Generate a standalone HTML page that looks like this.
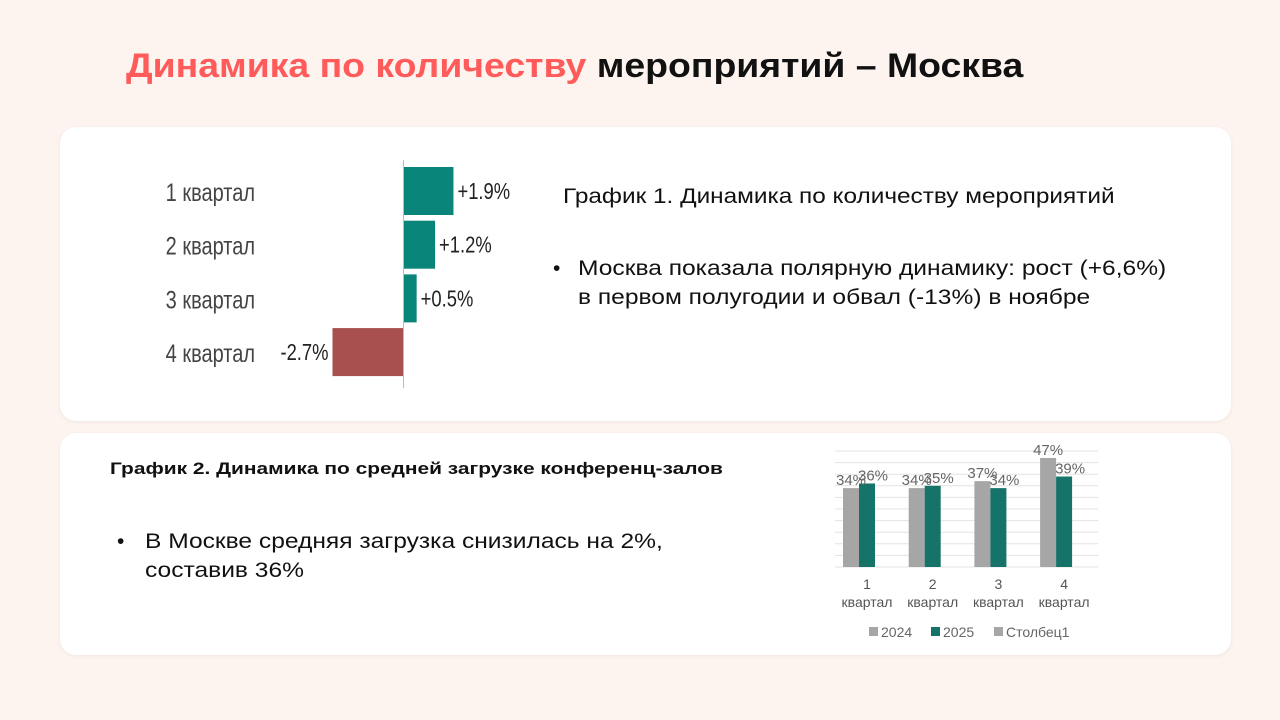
<!DOCTYPE html>
<html><head><meta charset="utf-8"><style>
body{margin:0;width:1280px;height:720px;background:#fdf3ef;font-family:"Liberation Sans",sans-serif;position:relative;overflow:hidden}
.card{position:absolute;background:#fff;border-radius:16px;box-shadow:0 1px 4px rgba(0,0,0,.06)}
.t{position:absolute;white-space:nowrap;color:#111;transform-origin:0 0}
</style></head><body>
<div class="t" style="left:126px;top:47px;font-size:34px;font-weight:bold;transform:scaleX(1.1)"><span style="color:#ff5b5a">Динамика по количеству</span> мероприятий – Москва</div>
<div class="card" style="left:60px;top:127px;width:1171px;height:294px"></div>
<div class="card" style="left:60px;top:433px;width:1171px;height:222px"></div>
<svg id="c1" width="1280" height="720" style="position:absolute;left:0;top:0"></svg>
<div class="t" style="left:563px;top:185px;font-size:21px;transform:scaleX(1.16)">График 1. Динамика по количеству мероприятий</div>
<div class="t" style="left:553px;top:254px;font-size:21px;line-height:29px">•<span style="position:absolute;left:25px;top:0;transform:scaleX(1.17);transform-origin:0 0">Москва показала полярную динамику: рост (+6,6%)<br>в первом полугодии и обвал (-13%) в ноябре</span></div>
<div class="t" style="left:110px;top:459px;font-size:17px;font-weight:bold;transform:scaleX(1.23)">График 2. Динамика по средней загрузке конференц-залов</div>
<div class="t" style="left:117px;top:527px;font-size:21px;line-height:29px">•<span style="position:absolute;left:28px;top:0;transform:scaleX(1.17);transform-origin:0 0">В Москве средняя загрузка снизилась на 2%,<br>составив 36%</span></div>
<script>
const q1Cats=["1 квартал","2 квартал","3 квартал","4 квартал"];
const q1Vals=[1.9,1.2,0.5,-2.7];
const q1Labels=["+1.9%","+1.2%","+0.5%","-2.7%"];
const q2Cats=["1","2","3","4"];
const s2024=[34,34,37,47];
const s2025=[36,35,34,39];
const NS="http://www.w3.org/2000/svg";
const svg=document.getElementById('c1');
function mk(t,a,txt){const e=document.createElementNS(NS,t);for(const k in a)e.setAttribute(k,a[k]);if(txt!=null)e.textContent=txt;svg.appendChild(e);return e;}
const x0=403.5,ppu=26.3;
const xs=v=>x0+v*ppu, ys=i=>167+i*53.7;
q1Vals.forEach((v,i)=>{
 const y=ys(i),xa=Math.min(xs(0),xs(v)),w=Math.abs(xs(v)-xs(0));
 let r=mk('rect',{x:xa,y:y,width:w,height:48,fill:v>=0?'#0a857a':'#a84f4f'});
 
 
 const lx=v>=0?xs(v)+4:xs(v)-4;
 let l=mk('text',{x:lx,y:y+32,'font-size':23,fill:'#222','text-anchor':v>=0?'start':'end',transform:`translate(${lx} 0) scale(0.8 1) translate(${-lx} 0)`},q1Labels[i]);
 
 
 let c=mk('text',{x:255,y:y+34,'font-size':25,fill:'#444','text-anchor':'end',transform:`translate(255 0) scale(0.8 1) translate(-255 0)`},q1Cats[i]);
 
 
});
let ax=mk('line',{x1:x0,x2:x0,y1:160,y2:388,stroke:'#bbb','stroke-width':1});


const base=567,pp=2.32;
const yv=v=>base-v*pp, cx=i=>867+i*65.7;
for(let g=0;g<=50;g+=5){let gl=mk('line',{x1:835,x2:1098,y1:yv(g),y2:yv(g),stroke:'#e3e3e3','stroke-width':1});
 
 }
q2Cats.forEach((c,i)=>{
 let a=mk('rect',{x:cx(i)-24,y:yv(s2024[i]),width:16,height:s2024[i]*pp,fill:'#a6a6a6'});
 
 
 let b=mk('rect',{x:cx(i)-8,y:yv(s2025[i]),width:16,height:s2025[i]*pp,fill:'#16736a'});
 
 
 let la=mk('text',{x:cx(i)-16,y:yv(s2024[i])-3,'font-size':15,fill:'#666','text-anchor':'middle'},s2024[i]+'%');
 
 
 let lb=mk('text',{x:cx(i)+6,y:yv(s2025[i])-3,'font-size':15,fill:'#666','text-anchor':'middle'},s2025[i]+'%');
 
 
 let t1=mk('text',{x:cx(i),y:589,'font-size':14,fill:'#555','text-anchor':'middle'},c);
 
 
 let t2=mk('text',{x:cx(i),y:607,'font-size':14,fill:'#555','text-anchor':'middle'},'квартал');
 
 
});
[['2024','#a6a6a6',869],['2025','#16736a',931],['Столбец1','#a6a6a6',994]].forEach((d,i)=>{
 let s=mk('rect',{x:d[2],y:627,width:9,height:9,fill:d[1]});
 
 
 let t=mk('text',{x:d[2]+12,y:637,'font-size':14,fill:'#666'},d[0]);
 
 
});
</script>
</body></html>
